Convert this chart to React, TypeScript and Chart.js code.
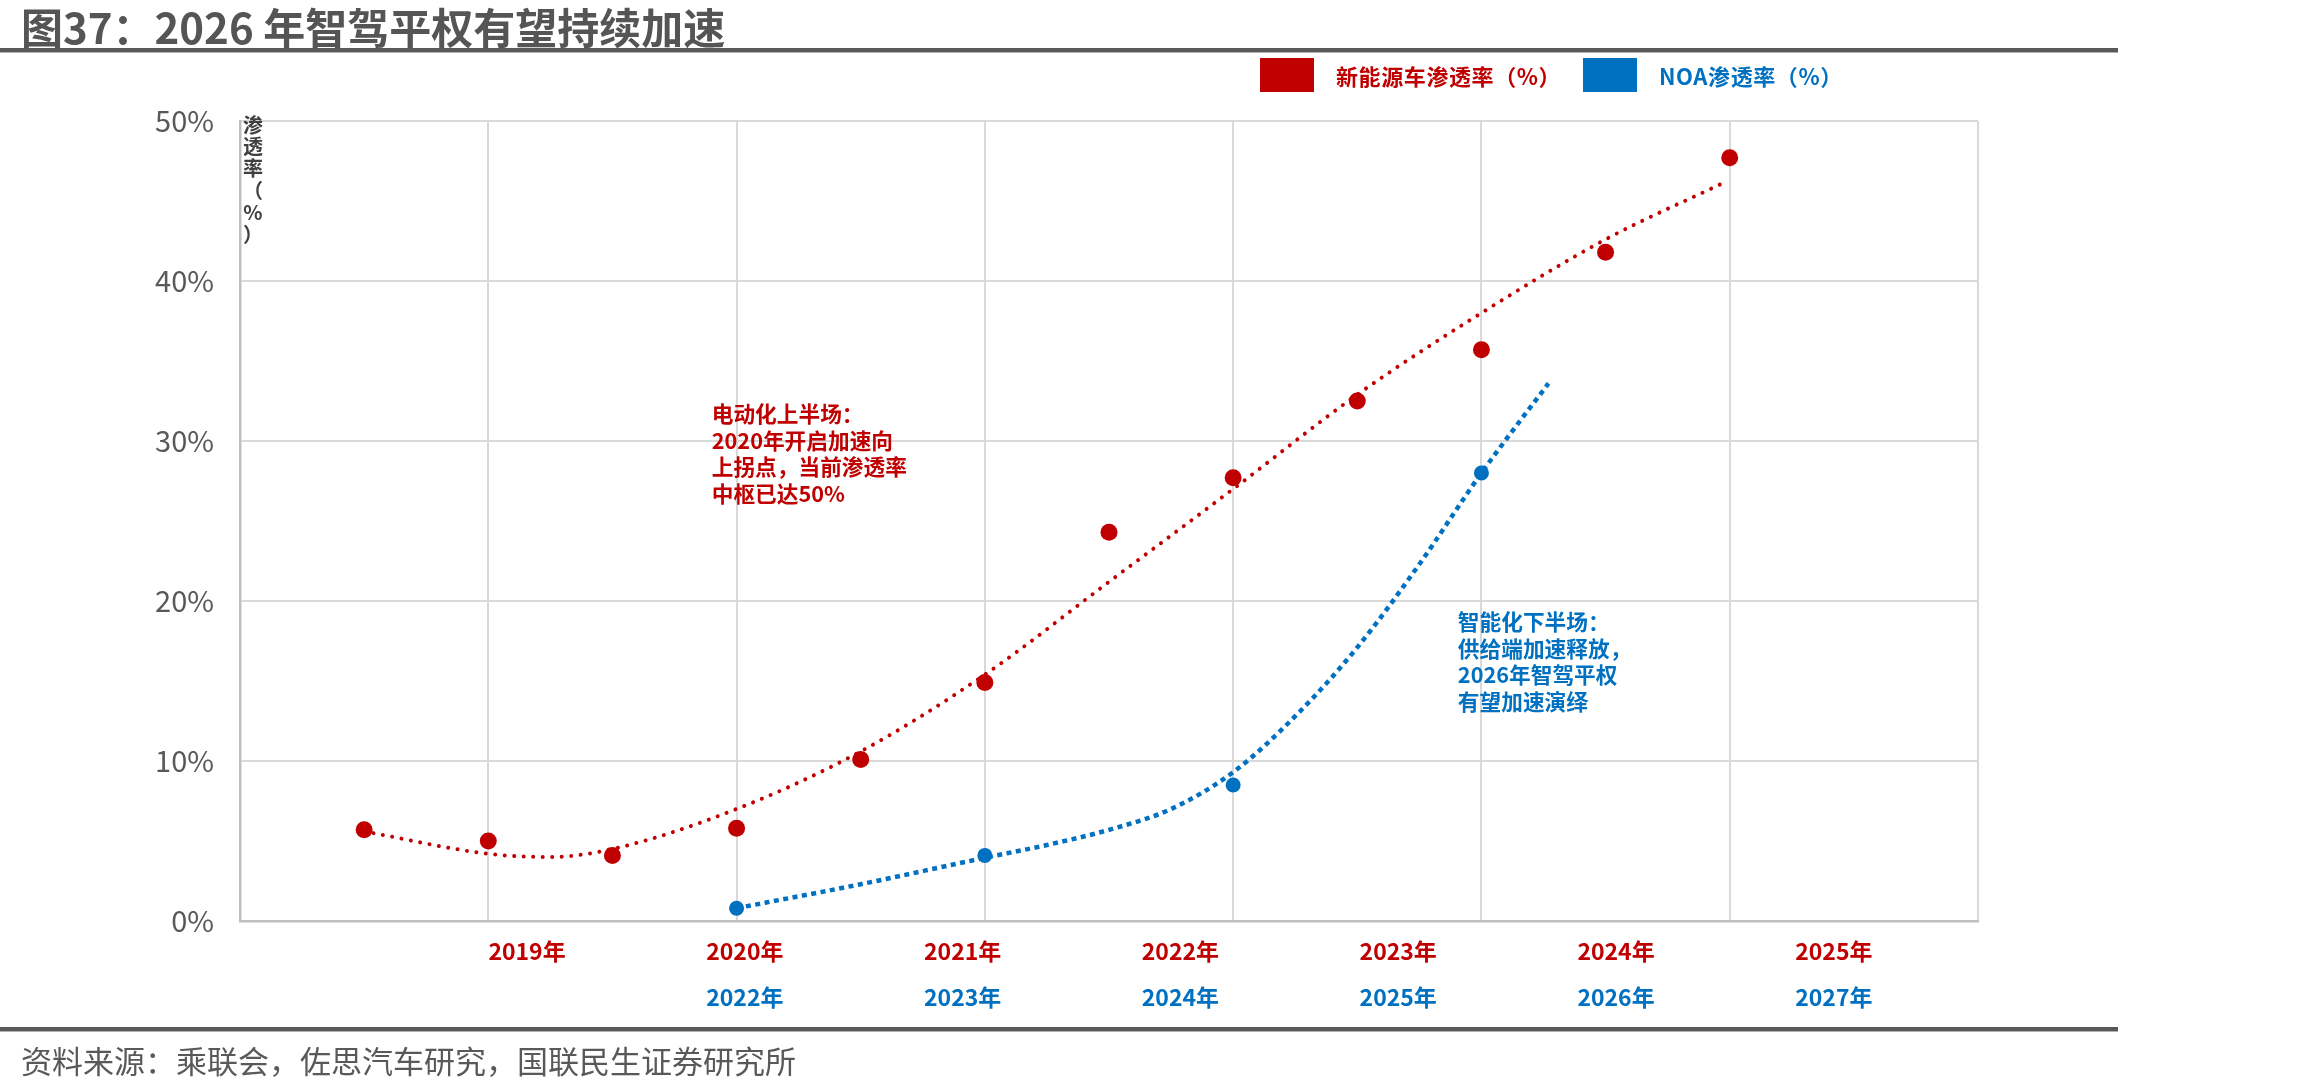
import React, { useEffect, useRef } from "react";
import { Chart, registerables } from "chart.js";

Chart.register(...registerables);

const FONT = "'Noto Sans CJK SC', 'Noto Sans', sans-serif";
const RED = "#C00000";
const BLUE = "#0070C0";
const GRID = "#D9D9D9";
const AXIS = "#BFBFBF";

// 时间轴：单位为年，0 对应 2018 年初，点位为半年度
const nevTime = [0.5, 1, 1.5, 2, 2.5, 3, 3.5, 4, 4.5, 5, 5.5, 6];
const nevRate = [5.7, 5.0, 4.1, 5.8, 10.1, 14.9, 24.3, 27.7, 32.5, 35.7, 41.8, 47.7];

// 新能源车渗透率趋势线
const nevTrendTime = [0.5, 1, 1.25, 1.5, 2, 2.5, 3, 3.5, 4, 4.5, 5, 5.5, 5.97];
const nevTrendRate = [5.6, 4.2, 4.0, 4.5, 7.0, 10.6, 15.4, 21.2, 27.0, 32.9, 38.0, 42.6, 46.1];

// NOA 渗透率
const noaTime = [2, 3, 4, 5];
const noaRate = [0.8, 4.1, 8.5, 28.0];

// NOA 渗透率趋势线
const noaTrendTime = [2, 2.5, 3, 3.25, 3.5, 3.75, 4, 4.25, 4.5, 4.75, 5, 5.27];
const noaTrendRate = [0.8, 2.3, 3.95, 4.75, 5.7, 7.0, 9.3, 12.8, 17.1, 22.3, 28.0, 33.6];

// 横轴年份标签（两行）
const nevYearLabels = ["2019年", "2020年", "2021年", "2022年", "2023年", "2024年", "2025年"];
const noaYearLabels = ["", "2022年", "2023年", "2024年", "2025年", "2026年", "2027年"];

// 纵轴
const yMax = 50;
const yStep = 10;
const yTitleChars = ["渗", "透", "率", "（", "%", "）"];

// 注释文字
const nevNote = ["电动化上半场：", "2020年开启加速向", "上拐点，当前渗透率", "中枢已达50%"];
const noaNote = ["智能化下半场：", "供给端加速释放，", "2026年智驾平权", "有望加速演绎"];
const nevNoteAt = { t: 1.9, rate: 31.7 };
const noaNoteAt = { t: 4.905, rate: 18.7 };

const legendItems = [
  { label: "新能源车渗透率（%）", color: RED },
  { label: "NOA渗透率（%）", color: BLUE },
];

const toPoints = (xs: number[], ys: number[]) => xs.map((x, i) => ({ x, y: ys[i] }));

const labelAt = (labels: string[]) => (v: number | string) => {
  const n = Number(v);
  const k = Math.round(n);
  if (Math.abs(n - k) > 1e-6) return "";
  return labels[k] ?? "";
};

const notesPlugin = {
  id: "notes",
  afterDraw(chart: any) {
    const { ctx, chartArea, scales } = chart;
    const xs = scales.x;
    const ys = scales.y;
    ctx.save();
    // 纵轴标题（竖排）
    ctx.font = `bold 20px ${FONT}`;
    ctx.fillStyle = "#404040";
    ctx.textAlign = "center";
    ctx.textBaseline = "middle";
    yTitleChars.forEach((ch, i) => {
      ctx.fillText(ch, chartArea.left + 13, chartArea.top + 4 + i * 21.8);
    });
    // 注释
    const drawNote = (lines: string[], at: { t: number; rate: number }, color: string) => {
      ctx.font = `bold 21.7px ${FONT}`;
      ctx.fillStyle = color;
      ctx.textAlign = "left";
      ctx.textBaseline = "middle";
      const x0 = xs.getPixelForValue(at.t);
      const y0 = ys.getPixelForValue(at.rate);
      lines.forEach((ln, i) => ctx.fillText(ln, x0, y0 + i * 26.6));
    };
    drawNote(nevNote, nevNoteAt, RED);
    drawNote(noaNote, noaNoteAt, BLUE);
    ctx.restore();
  },
};

function PenetrationChart() {
  const ref = useRef<HTMLCanvasElement | null>(null);

  useEffect(() => {
    if (!ref.current) return;
    const chart = new Chart(ref.current, {
      type: "scatter",
      data: {
        datasets: [
          {
            label: "新能源车渗透率（%）",
            data: toPoints(nevTime, nevRate),
            showLine: false,
            pointRadius: 8.5,
            pointBackgroundColor: RED,
            pointBorderWidth: 0,
            xAxisID: "x",
            yAxisID: "y",
          },
          {
            label: "NOA渗透率（%）",
            data: toPoints(noaTime, noaRate),
            showLine: false,
            pointRadius: 7.5,
            pointBackgroundColor: BLUE,
            pointBorderWidth: 0,
            xAxisID: "x",
            yAxisID: "y",
          },
          {
            label: "新能源车趋势",
            data: toPoints(nevTrendTime, nevTrendRate),
            showLine: true,
            pointRadius: 0,
            borderColor: RED,
            borderWidth: 4,
            borderDash: [0.01, 9.5],
            borderCapStyle: "round",
            cubicInterpolationMode: "monotone",
            xAxisID: "x",
            yAxisID: "y",
          },
          {
            label: "NOA趋势",
            data: toPoints(noaTrendTime, noaTrendRate),
            showLine: true,
            pointRadius: 0,
            borderColor: BLUE,
            borderWidth: 4.5,
            borderDash: [5, 4.5],
            borderCapStyle: "butt",
            cubicInterpolationMode: "monotone",
            xAxisID: "x",
            yAxisID: "y",
          },
        ],
      },
      options: {
        responsive: false,
        animation: false,
        devicePixelRatio: 1,
        layout: { padding: { left: 140, right: 332, top: 121, bottom: 76 } },
        plugins: {
          legend: { display: false },
          tooltip: { enabled: false },
        },
        scales: {
          x: {
            type: "linear",
            position: "bottom",
            min: 0,
            max: 7,
            weight: 0,
            ticks: { stepSize: 1, display: false },
            grid: { color: GRID, lineWidth: 2, drawTicks: false },
            border: { display: true, color: AXIS, width: 2.5 },
            afterFit: (s: any) => {
              s.height = 0;
            },
          },
          xNev: {
            type: "linear",
            position: "bottom",
            min: -1.318,
            max: 6.662,
            weight: 1,
            ticks: {
              stepSize: 1,
              autoSkip: false,
              maxRotation: 0,
              minRotation: 0,
              padding: 16,
              color: RED,
              font: { family: FONT, size: 23, weight: "bold" },
              callback: labelAt(nevYearLabels),
            },
            grid: { display: false, drawTicks: false },
            border: { display: false },
            afterFit: (s: any) => {
              s.height = 47;
            },
          },
          xNoa: {
            type: "linear",
            position: "bottom",
            min: -1.318,
            max: 6.662,
            weight: 2,
            ticks: {
              stepSize: 1,
              autoSkip: false,
              maxRotation: 0,
              minRotation: 0,
              padding: 15,
              color: BLUE,
              font: { family: FONT, size: 23, weight: "bold" },
              callback: labelAt(noaYearLabels),
            },
            grid: { display: false, drawTicks: false },
            border: { display: false },
            afterFit: (s: any) => {
              s.height = 47;
            },
          },
          y: {
            type: "linear",
            position: "left",
            min: 0,
            max: yMax,
            ticks: {
              stepSize: yStep,
              padding: 26,
              color: "#595959",
              font: { family: FONT, size: 29 },
              callback: (v: number | string) => `${v}%`,
            },
            grid: { color: GRID, lineWidth: 2, drawTicks: false },
            border: { display: true, color: AXIS, width: 2.5 },
            afterFit: (s: any) => {
              s.width = 100;
            },
          },
        },
      },
      plugins: [notesPlugin],
    } as any);
    return () => chart.destroy();
  }, []);

  return (
    <canvas
      ref={ref}
      width={2310}
      height={1091}
      style={{ position: "absolute", left: 0, top: 0, width: 2310, height: 1091 }}
    />
  );
}

export default function App() {
  return (
    <div
      style={{
        position: "absolute",
        left: 0,
        top: 0,
        width: 2310,
        height: 1091,
        background: "#ffffff",
        overflow: "hidden",
        fontFamily: FONT,
      }}
    >
      <PenetrationChart />
      <div
        style={{
          position: "absolute",
          left: 21,
          top: 5,
          height: 42,
          lineHeight: "42px",
          fontSize: 42,
          fontWeight: 700,
          color: "#555555",
          whiteSpace: "nowrap",
        }}
      >
        图37：2026 年智驾平权有望持续加速
      </div>
      <div style={{ position: "absolute", left: 0, top: 48, width: 2118, height: 4, background: "#595959" }} />
      <div style={{ position: "absolute", left: 0, top: 52, width: 2118, height: 1, background: "#B0B0B0" }} />
      {legendItems.map((it, i) => (
        <div
          key={it.label}
          style={{
            position: "absolute",
            left: i === 0 ? 1260 : 1583,
            top: 58,
            height: 34,
            display: "flex",
            alignItems: "center",
            whiteSpace: "nowrap",
          }}
        >
          <div style={{ width: 54, height: 34, background: it.color }} />
          <div
            style={{
              marginLeft: 22,
              fontSize: 22,
              lineHeight: "22px",
              fontWeight: 700,
              color: it.color,
              letterSpacing: 0.6,
            }}
          >
            {it.label}
          </div>
        </div>
      ))}
      <div style={{ position: "absolute", left: 0, top: 1027, width: 2118, height: 4, background: "#595959" }} />
      <div style={{ position: "absolute", left: 0, top: 1031, width: 2118, height: 1, background: "#B0B0B0" }} />
      <div
        style={{
          position: "absolute",
          left: 21,
          top: 1044,
          height: 31,
          lineHeight: "31px",
          fontSize: 31,
          color: "#595959",
          whiteSpace: "nowrap",
        }}
      >
        资料来源：乘联会，佐思汽车研究，国联民生证券研究所
      </div>
    </div>
  );
}
